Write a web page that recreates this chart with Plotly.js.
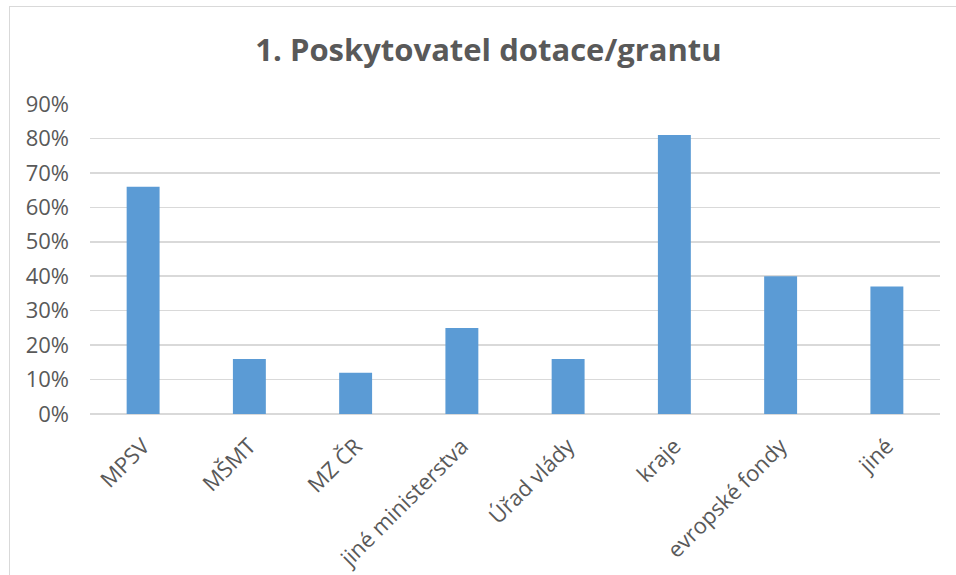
<!DOCTYPE html>
<html>
<head>
<meta charset="utf-8">
<script src="https://cdn.plot.ly/plotly-3.0.1.min.js"></script>
<style>
  html, body { margin: 0; padding: 0; background: #fff; }
  #wrap { position: relative; width: 956px; height: 575px; }
  #chart { width: 956px; height: 575px; }
  #frame { position: absolute; left: 9px; top: 6px; width: 960px; height: 580px;
           border-top: 1.5px solid #d9d9d9; border-left: 1.5px solid #d9d9d9; pointer-events: none; }
</style>
</head>
<body>
<div id="wrap">
  <div id="chart"></div>
  <div id="frame"></div>
</div>
<script>
const categories = ["MPSV", "MŠMT", "MZ ČR", "jiné ministerstva", "Úřad vlády", "kraje", "evropské fondy", "jiné"];
const values = [0.66, 0.16, 0.12, 0.25, 0.16, 0.81, 0.40, 0.37];
const yTickValues = [0, 0.1, 0.2, 0.3, 0.4, 0.5, 0.6, 0.7, 0.8, 0.9];
const yTickLabels = ["0%", "10%", "20%", "30%", "40%", "50%", "60%", "70%", "80%", "90%"];
const chartTitle = "1. Poskytovatel dotace/grantu";

const fontFam = "'Open Sans', sans-serif";
const trace = {
  type: "bar",
  x: categories,
  y: values,
  marker: { color: "#5b9bd5" },
  hoverinfo: "x+y"
};

const layout = {
  width: 956, height: 575,
  margin: { l: 90, r: 16, t: 104, b: 161 },
  paper_bgcolor: "#ffffff",
  plot_bgcolor: "#ffffff",
  title: {
    text: "<b>" + chartTitle + "</b>",
    font: { family: fontFam, size: 31, color: "#595959" },
    x: 0.511, xref: "container", xanchor: "center",
    y: 0.913, yref: "container", yanchor: "middle"
  },
  bargap: 0.69,
  showlegend: false,
  xaxis: {
    type: "category",
    tickangle: -45,
    tickfont: { family: fontFam, size: 22, color: "#595959" },
    showgrid: false,
    showline: false,
    zeroline: false,
    ticks: "",
    ticklabelstandoff: 14
  },
  yaxis: {
    range: [0, 0.9],
    tickvals: yTickValues,
    ticktext: yTickLabels,
    tickfont: { family: fontFam, size: 22, color: "#595959" },
    showgrid: true,
    gridcolor: "#d9d9d9",
    gridwidth: 1.5,
    zeroline: true,
    zerolinecolor: "#d9d9d9",
    zerolinewidth: 1.5,
    showline: false,
    ticks: "",
    ticklabelstandoff: 20
  }
};

Plotly.newPlot("chart", [trace], layout, { displayModeBar: false, staticPlot: true });
</script>
</body>
</html>
